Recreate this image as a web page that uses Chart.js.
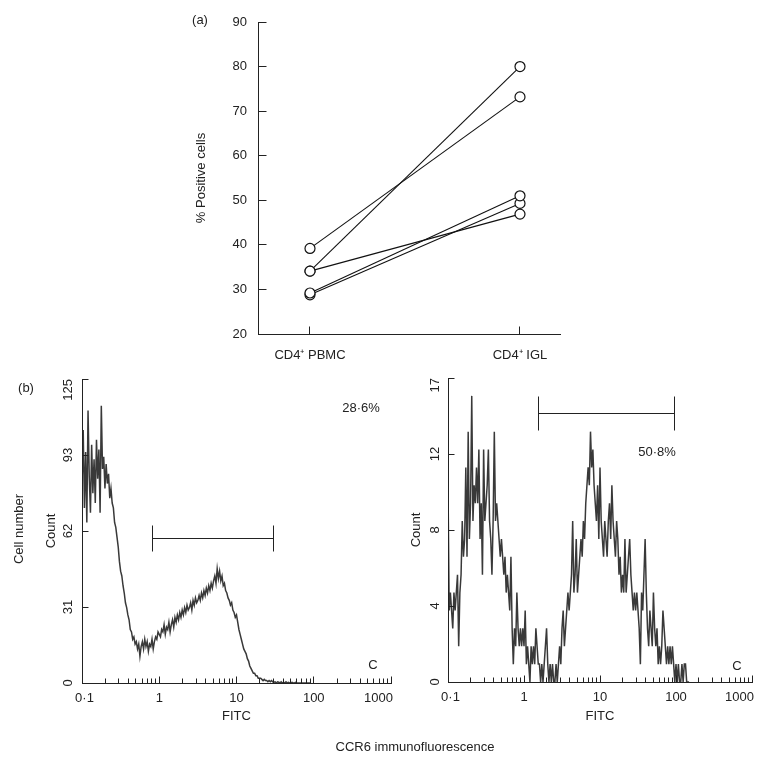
<!DOCTYPE html>
<html><head><meta charset="utf-8">
<script src="https://cdn.jsdelivr.net/npm/chart.js@4.4.1/dist/chart.umd.min.js"></script>
<style>
html,body{margin:0;padding:0;background:#fff;}
body{width:762px;height:759px;position:relative;overflow:hidden;font-family:"Liberation Sans",Arial,sans-serif;color:#222;}
canvas{position:absolute;}
.lbl{position:absolute;font-size:13px;white-space:nowrap;transform:translate(-50%,-50%);line-height:15px;}
.rot{transform:translate(-50%,-50%) rotate(-90deg);}
</style></head><body>
<canvas id="cA" width="400" height="370" style="left:180px;top:0px"></canvas>
<canvas id="cB" width="400" height="390" style="left:0px;top:370px"></canvas>
<canvas id="cC" width="382" height="390" style="left:380px;top:370px"></canvas>
<div class="lbl" style="left:200px;top:19px">(a)</div>
<div class="lbl" style="left:26px;top:387px">(b)</div>
<div class="lbl rot" style="left:18px;top:529px">Cell number</div>
<div class="lbl" style="left:415px;top:746px">CCR6 immunofluorescence</div>
<script>
// ---------- data ----------
const groups = ['CD4\u207A PBMC', 'CD4\u207A IGL'];
const pbmcPct = [39.2, 34.1, 34.1, 29.2, 28.8];
const iglPct  = [73.2, 80.0, 46.9, 51.0, 49.3];

const fitcTickLabels = ['0\u00B71', '1', '10', '100', '1000'];
const fitcMajor = [0.1, 1, 10, 100, 1000];
const binChannels = 4;   // channels per histogram bin (256 channels per decade)

// left histogram (CD4+ PBMC), counts per bin
const pbmcCounts = [
 80,104,72,95,66,112,85,70,98,78,
 92,74,100,84,96,70,114,88,93,80,
 90,82,86,76,80,74,72,66,64,60,
 56,50,46,44,40,37,33,31,28,26,
 22,21,18,19,16,17,14,16,11,15,
 17,14,18,15,17,13,16,15,18,14,
 17,19,18,21,20,19,22,21,24,20,
 23,22,25,21,24,26,23,27,25,28,
 26,29,27,30,28,31,29,32,30,31,
 33,30,34,32,35,33,34,36,34,37,
 35,38,36,39,37,40,38,41,39,42,
 44,41,47,43,46,42,44,40,41,38,
 37,35,34,32,33,30,29,27,28,25,
 22,20,18,16,14,13,12,10,9,7,
 6,5,4,4,3,3,2,2,2,1.5,
 1,1.5,1,1,0.5,1,0.5,1,0.5,0.3,
 0.5,0,0.5,0.3,0,0.5,0,0.3,0,0.5,
 0,0.3,0,0,0.3,0,0,0.3,0,0,
 0,0,0,0,0,0,0,0,0,0];
const pbmcCountTickValues = [0, 31.25, 62.5, 93.75, 125];
const pbmcCountTicks = ['0', '31', '62', '93', '125'];
const pbmcGate = [0.807, 30.4];
const pbmcGateLevel = 59.6;
const pbmcPercent = '28\u00B76%';

// right histogram (CD4+ IGL), counts per bin
const iglCounts = [
 11,4,5,4,3,5,4,5,
 6,2,5,6,9,7,8,12,
 7,14,8,10,16,9,11,10,
 12,10,13,8,10,6,13,9,
 10,11,13,9,8,6,9,14,
 9,10,9,8,7,8,7,6,
 7,5,6,5,4,7,3,1,
 3,2,5,3,2,3,2,3,
 2,4,1,2,1,0,2,1,
 2,1,3,2,1,1,0,1,
 0,1,2,3,1,0,1,0,
 1,0,0,1,0,1,2,1,
 3,4,2,3,4,5,4,5,
 6,9,5,6,8,5,6,7,
 8,7,9,8,10,11,12,11,
 14,12,13,11,10,9,11,8,
 12,9,8,7,9,8,7,9,
 10,8,11,9,8,7,9,8,
 6,7,5,6,5,8,5,6,
 7,8,6,5,4,5,4,5,
 4,3,1,5,4,6,8,5,
 3,2,4,3,2,5,3,2,
 3,1,2,1,2,4,3,2,
 1,2,1,2,1,2,1,0,
 1,0,1,0,0,1,0,1,
 1,0,0,0];
const iglCountTickValues = [0, 4.25, 8.5, 12.75, 17];
const iglCountTicks = ['0', '4', '8', '12', '17'];
const iglGate = [1.53, 97];
const iglGateLevel = 15.0;
const iglPercent = '50\u00B78%';

// ---------- helpers ----------
const FONT = '"Liberation Sans", Arial, sans-serif';
Chart.defaults.font.family = FONT;
Chart.defaults.font.size = 13;
Chart.defaults.color = '#222';
const INK = '#222';
const toCh = v => 256 * Math.log10(v / 0.1);
const fitcMinor = [];
for (let d = 0; d < 4; d++) for (let k = 2; k <= 9; k++) fitcMinor.push(fitcMajor[d] * k);
const al = p => Math.round(p - 0.5) + 0.5;

const decoPlugin = {
  id: 'deco',
  afterDatasetsDraw(chart, args, o) {
    const ctx = chart.ctx, a = chart.chartArea, xs = chart.scales.x, ys = chart.scales.y;
    const X0 = al(a.left), Y0 = al(a.bottom);
    ctx.save();
    ctx.strokeStyle = INK; ctx.fillStyle = INK; ctx.lineWidth = 1;
    ctx.beginPath();
    (o.yTicks || []).forEach(v => { const y = al(ys.getPixelForValue(v)); ctx.moveTo(X0, y); ctx.lineTo(X0 + o.yTickLen, y); });
    (o.xMajor || []).forEach(v => { const x = al(xs.getPixelForValue(v)); ctx.moveTo(x, Y0); ctx.lineTo(x, Y0 - o.xMajorLen); });
    (o.xMinor || []).forEach(v => { const x = al(xs.getPixelForValue(v)); ctx.moveTo(x, Y0); ctx.lineTo(x, Y0 - o.xMinorLen); });
    ctx.stroke();
    ctx.font = '13px ' + FONT;
    if (o.yLabels) {
      o.yLabels.forEach((t, i) => {
        const y = ys.getPixelForValue(o.yTicks[i]);
        ctx.save();
        ctx.translate(a.left - o.yLabelGap, y);
        ctx.rotate(-Math.PI / 2);
        ctx.textBaseline = 'middle';
        ctx.textAlign = (i === o.yLabels.length - 1) ? 'right' : 'center';
        ctx.fillText(t, 0, 0);
        ctx.restore();
      });
    }
    if (o.xLabels) {
      ctx.textBaseline = 'middle';
      o.xLabels.forEach((t, i) => {
        const x = xs.getPixelForValue(o.xMajor[i]);
        const y = a.bottom + o.xLabelGap;
        if (i === o.xLabels.length - 1) { ctx.textAlign = 'right'; ctx.fillText(t, x + 2, y); }
        else if (i === 0) { ctx.textAlign = 'center'; ctx.fillText(t, x + 2.5, y); }
        else { ctx.textAlign = 'center'; ctx.fillText(t, x, y); }
      });
    }
    if (o.gate) {
      const g = o.gate;
      const x1 = xs.getPixelForValue(g.from), x2 = xs.getPixelForValue(g.to), y = al(ys.getPixelForValue(g.level));
      ctx.beginPath();
      ctx.moveTo(x1, y); ctx.lineTo(x2, y);
      ctx.moveTo(al(x1), y - g.cap); ctx.lineTo(al(x1), y + g.cap);
      ctx.moveTo(al(x2), y - g.cap); ctx.lineTo(al(x2), y + g.cap);
      ctx.stroke();
    }
    (o.notes || []).forEach(n => {
      ctx.textAlign = 'center'; ctx.textBaseline = 'middle';
      ctx.fillText(n.text, n.x, n.y);
    });
    ctx.restore();
  }
};
Chart.register(decoPlugin);

// ---------- panel (a) ----------
new Chart(document.getElementById('cA'), {
  type: 'line',
  data: {
    datasets: pbmcPct.map((p, i) => ({
      data: [{ x: 0, y: p }, { x: 1, y: iglPct[i] }],
      borderColor: '#111', borderWidth: 1.1,
      pointRadius: 5, pointBackgroundColor: '#fff', pointBorderColor: '#111', pointBorderWidth: 1.2,
      tension: 0
    }))
  },
  options: {
    responsive: false, animation: false, devicePixelRatio: 1,
    layout: { padding: { left: 14, right: 20, top: 22, bottom: 0 } },
    plugins: { legend: { display: false }, tooltip: { enabled: false },
      deco: { yTicks: [20, 30, 40, 50, 60, 70, 80, 90], yTickLen: 8, xMajor: [0, 1], xMajorLen: 8 } },
    scales: {
      x: { type: 'linear', min: -0.2476, max: 1.1905,
        grid: { display: false, drawTicks: false }, border: { display: true, color: INK, width: 1 },
        afterBuildTicks: s => { s.ticks = [{ value: 0 }, { value: 1 }]; },
        ticks: { padding: 14, maxRotation: 0, callback: (v, i) => groups[i], font: { size: 13 } },
        afterFit: s => { s.height = 36; } },
      y: { min: 20, max: 90,
        grid: { display: false, drawTicks: false }, border: { display: true, color: INK, width: 1 },
        ticks: { stepSize: 10, padding: 11, font: { size: 13 } },
        title: { display: true, text: '% Positive cells', padding: { top: 0, bottom: 0 }, font: { size: 13 } },
        afterFit: s => { s.width = 64; } }
    }
  }
});

// ---------- histograms ----------
function histChart(id, counts, yMax, yTickVals, yTickLabels, gate, gateLevel, cap, notes, pad, yW, yTitlePad, xTitlePad, yGap) {
  return new Chart(document.getElementById(id), {
    type: 'line',
    data: { datasets: [{
      data: counts.map((c, i) => ({ x: i * binChannels, y: c })),
      borderColor: 'rgba(35,35,35,0.9)', borderWidth: 1.5, pointRadius: 0, tension: 0
    }] },
    options: {
      responsive: false, animation: false, devicePixelRatio: 1,
      layout: { padding: pad },
      plugins: { legend: { display: false }, tooltip: { enabled: false },
        deco: {
          yTicks: yTickVals, yTickLen: 6, yLabels: yTickLabels, yLabelGap: yGap,
          xMajor: fitcMajor.map(toCh), xMajorLen: 7, xMinor: fitcMinor.map(toCh), xMinorLen: 5,
          xLabels: fitcTickLabels, xLabelGap: 15.3,
          gate: { from: toCh(gate[0]), to: toCh(gate[1]), level: gateLevel, cap: cap },
          notes: notes
        } },
      scales: {
        x: { type: 'linear', min: 0, max: 1024,
          grid: { display: false, drawTicks: false }, border: { display: true, color: INK, width: 1 },
          ticks: { display: false },
          title: { display: true, text: 'FITC', padding: { top: 0, bottom: xTitlePad }, font: { size: 13 } },
          afterFit: s => { s.height = 45; } },
        y: { type: 'linear', min: 0, max: yMax,
          grid: { display: false, drawTicks: false }, border: { display: true, color: INK, width: 1 },
          ticks: { display: false },
          title: { display: true, text: 'Count', padding: { top: yTitlePad, bottom: 0 }, font: { size: 13 } },
          afterFit: s => { s.width = yW; } }
      }
    }
  });
}

histChart('cB', pbmcCounts, 125, pbmcCountTickValues, pbmcCountTicks, pbmcGate, pbmcGateLevel, 13,
  [{ text: pbmcPercent, x: 361, y: 38 }, { text: 'C', x: 373, y: 295 }],
  { left: 30, right: 9, top: 9, bottom: 32 }, 52, 13.2, 3.5, 13.5);

histChart('cC', iglCounts, 17, iglCountTickValues, iglCountTicks, iglGate, iglGateLevel, 17,
  [{ text: iglPercent, x: 277, y: 82 }, { text: 'C', x: 357, y: 296 }],
  { left: 20, right: 10, top: 8, bottom: 33 }, 48, 8.9, 2.5, 12.5);
</script>
</body></html>
